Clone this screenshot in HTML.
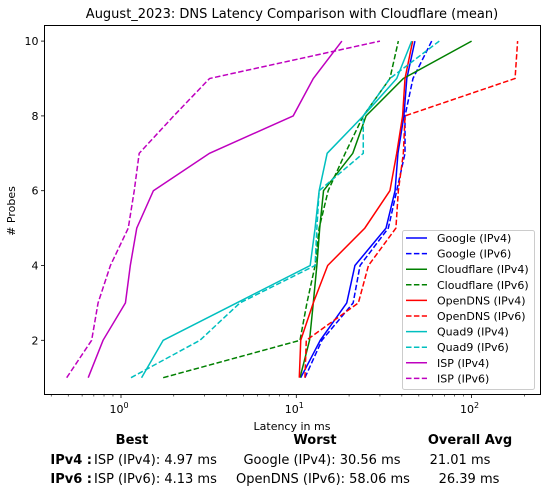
<!DOCTYPE html>
<html><head><meta charset="utf-8"><style>
body{margin:0;background:#fff;}
svg{display:block;font-family:"DejaVu Sans","Liberation Sans",sans-serif;}
</style></head><body>
<svg id="chart" width="548" height="496" viewBox="0 0 548 496" xmlns="http://www.w3.org/2000/svg">
<rect width="548" height="496" fill="#fff"/>
<text x="292" y="18" font-size="13" text-anchor="middle">August_2023: DNS Latency Comparison with Cloudflare (mean)</text>
<g id="plot"></g>
<text x="292" y="430" font-size="11" text-anchor="middle">Latency in ms</text>
<text transform="translate(15,211) rotate(-90)" font-size="11" text-anchor="middle"># Probes</text>
<g font-size="13">
<text x="132" y="444" font-weight="bold" text-anchor="middle">Best</text>
<text x="315" y="444" font-weight="bold" text-anchor="middle">Worst</text>
<text x="470" y="444" font-weight="bold" text-anchor="middle">Overall Avg</text>
<text x="92" y="464" font-weight="bold" text-anchor="end">IPv4 :</text>
<text x="94" y="464">ISP (IPv4): 4.97 ms</text>
<text x="322" y="464" text-anchor="middle">Google (IPv4): 30.56 ms</text>
<text x="460" y="464" text-anchor="middle">21.01 ms</text>
<text x="92" y="483" font-weight="bold" text-anchor="end">IPv6 :</text>
<text x="94" y="483">ISP (IPv6): 4.13 ms</text>
<text x="323" y="483" text-anchor="middle">OpenDNS (IPv6): 58.06 ms</text>
<text x="469" y="483" text-anchor="middle">26.39 ms</text>
</g>
</svg>
<script>
const probes=[1,2,3,4,5,6,7,8,9,10];
const googleV4=[10.6,13.7,19.4,21.6,32.5,36.6,38,41.1,42.7,47.5];
const googleV6=[11.2,14.0,21.1,23.1,33.5,37.4,41.7,41.7,46.3,59.2];
const cloudflareV4=[10.5,11.9,12.5,13.1,13.6,14.3,21.0,25.0,40.8,100];
const cloudflareV6=[1.74,10.5,11.5,12.8,13.5,15.2,19.0,24.1,34.2,38.2];
const opendnsV4=[10.4,10.6,12.5,15.1,24.6,34.2,37.4,40.4,41.7,46.1];
const opendnsV6=[11.2,11.4,22.6,25.8,37.0,38.2,40.8,41.7,177,183];
const quad9V4=[1.31,1.74,4.57,12.0,12.8,13.5,15.0,24.1,37.4,45.5];
const quad9V6=[1.14,2.82,4.77,12.8,13.1,13.5,24.1,24.1,34.2,65.4];
const ispV4=[0.65,0.79,1.06,1.13,1.23,1.53,3.2,9.6,12.5,18.2];
const ispV6=[0.49,0.68,0.74,0.87,1.10,1.19,1.27,2.0,3.2,30.0];
const seriesNames=["Google (IPv4)","Google (IPv6)","Cloudflare (IPv4)","Cloudflare (IPv6)","OpenDNS (IPv4)","OpenDNS (IPv6)","Quad9 (IPv4)","Quad9 (IPv6)","ISP (IPv4)","ISP (IPv6)"];
const seriesData=[googleV4,googleV6,cloudflareV4,cloudflareV6,opendnsV4,opendnsV6,quad9V4,quad9V6,ispV4,ispV6];
const yTicks=[2,4,6,8,10];
const xMajor=[1,10,100];

const colors=["#0000ff","#0000ff","#008000","#008000","#ff0000","#ff0000","#00bfbf","#00bfbf","#bf00bf","#bf00bf"];
const L=44.5,R=540.5,T=25.5,B=394.5;
const xs=v=>121+175.3*Math.log10(v);
const ys=v=>377.7-37.4*(v-1);
const NS="http://www.w3.org/2000/svg";
const g=document.getElementById('plot');
function mk(t,a){const e=document.createElementNS(NS,t);for(const k in a)e.setAttribute(k,a[k]);return e;}
// series
seriesData.forEach((arr,i)=>{
  const pts=arr.map((v,j)=>xs(v).toFixed(2)+','+ys(probes[j]).toFixed(2)).join(' ');
  const p=mk('polyline',{points:pts,fill:'none',stroke:colors[i],'stroke-width':1.5});
  if(i%2===1)p.setAttribute('stroke-dasharray','5.5,2.4');
  
  
  g.appendChild(p);
});
// axes box
const box=mk('rect',{x:L,y:T,width:R-L,height:B-T,fill:'none',stroke:'#000','stroke-width':1});


g.appendChild(box);
// y ticks
yTicks.forEach(v=>{
  const y=ys(v);
  const t=mk('line',{x1:L,x2:L-3.5,y1:y,y2:y,stroke:'#000','stroke-width':0.8});
  
  
  g.appendChild(t);
  const tx=mk('text',{x:L-6,y:y+4,'font-size':11,'text-anchor':'end'});
  tx.textContent=v;
  
  
  g.appendChild(tx);
});
// x ticks
for(let d=-1;d<=2;d++){for(let m=1;m<=9;m++){
  const v=m*Math.pow(10,d);const x=xs(v);
  if(x<L||x>R)continue;
  const major=m===1;
  const t=mk('line',{x1:x,x2:x,y1:B,y2:B+(major?3.5:2),stroke:'#000','stroke-width':major?0.8:0.6});
  
  
  g.appendChild(t);
}}
xMajor.forEach(v=>{
  const x=xs(v);
  const tx=mk('text',{x:x-2,y:413,'font-size':11,'text-anchor':'middle'});
  tx.textContent='10';
  const sup=mk('tspan',{dy:-5,'font-size':8});
  sup.textContent=String(Math.round(Math.log10(v)));
  tx.appendChild(sup);
  
  
  g.appendChild(tx);
});
// legend
const lg=mk('g',{});


g.appendChild(lg);
lg.appendChild(mk('rect',{x:402.5,y:230.5,width:132,height:159,rx:2,fill:'#fff','fill-opacity':0.8,stroke:'#ccc'}));
seriesNames.forEach((n,i)=>{
  const y=238+i*15.6;
  const ln=mk('line',{x1:406,x2:427,y1:y,y2:y,stroke:colors[i],'stroke-width':1.5});
  if(i%2===1)ln.setAttribute('stroke-dasharray','5.5,2.4');
  
  
  lg.appendChild(ln);
  const tx=mk('text',{x:437,y:y+4,'font-size':11});
  tx.textContent=n;
  
  
  lg.appendChild(tx);
});
</script>
</body></html>
